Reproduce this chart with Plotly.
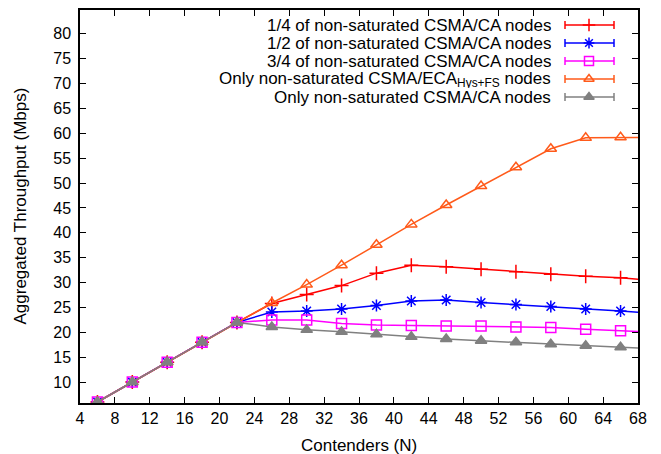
import plotly.graph_objects as go

# ── data ────────────────────────────────────────────────────────────────────
contenders = [6, 10, 14, 18, 22, 26, 30, 34, 38, 42, 46, 50, 54, 58, 62, 66, 70]

quarter_ca = [6, 10, 14, 18, 22, 25.8, 27.6, 29.4, 31.9, 33.5, 33.2, 32.7, 32.2, 31.7, 31.3, 31.0, 30.4]
half_ca = [6, 10, 14, 18, 22, 24.1, 24.3, 24.7, 25.4, 26.3, 26.5, 26.0, 25.6, 25.2, 24.7, 24.3, 23.8]
three_q_ca = [6, 10, 14, 18, 22, 22.5, 22.5, 21.8, 21.5, 21.4, 21.3, 21.3, 21.1, 21.0, 20.6, 20.3, 20.0]
only_eca = [6, 10, 14, 18, 22, 25.9, 29.6, 33.5, 37.6, 41.7, 45.6, 49.4, 53.2, 56.9, 59.1, 59.2, 59.2]
only_ca = [6, 10, 14, 18, 22, 21.1, 20.5, 20.1, 19.6, 19.1, 18.65, 18.3, 18.0, 17.6, 17.3, 17.0, 16.7]

series = [
    ("1/4 of non-saturated CSMA/CA nodes", quarter_ca, "#ff0000", "cross-thin-open"),
    ("1/2 of non-saturated CSMA/CA nodes", half_ca, "#0000ff", "asterisk-open"),
    ("3/4 of non-saturated CSMA/CA nodes", three_q_ca, "#ff00ff", "square-open"),
    ("Only non-saturated CSMA/ECA<sub>Hys+FS</sub> nodes", only_eca, "#ff5a1a", "triangle-up-open"),
    ("Only non-saturated CSMA/CA nodes", only_ca, "#808080", "triangle-up"),
]

x_ticks = list(range(4, 69, 4))
y_ticks = list(range(10, 81, 5))

FONT = "Liberation Sans, Arial, sans-serif"

fig = go.Figure()

for name, vals, color, symbol in series:
    fig.add_trace(go.Scatter(
        x=contenders, y=vals,
        name=name, mode="lines+markers",
        line=dict(color=color, width=1.5),
        marker=dict(symbol=symbol, size=10, color=color,
                    line=dict(color=color, width=1.5)),
        showlegend=False,
    ))

# ── hand-made key: text first, then sample line with caps (gnuplot style) ───
# overlay axis measured in page pixels of the plot area
row_y = [25, 43, 61, 79, 97]
line_x0, line_x1, mark_x, text_x = 565, 614, 589, 553
for (name, vals, color, symbol), ry in zip(series, row_y):
    fig.add_annotation(
        x=text_x, y=ry, xref="x2", yref="y2", text=name, showarrow=False,
        xanchor="right", yanchor="middle", height=17, valign="middle",
        font=dict(family=FONT, size=17, color="black"),
    )
    fig.add_shape(type="line", xref="x2", yref="y2",
                  x0=line_x0, x1=line_x1, y0=ry, y1=ry,
                  line=dict(color=color, width=1.5))
    for cx in (line_x0, line_x1):
        fig.add_shape(type="line", xref="x2", yref="y2",
                      x0=cx, x1=cx, y0=ry - 4, y1=ry + 4,
                      line=dict(color=color, width=1.5))
    fig.add_trace(go.Scatter(
        x=[mark_x], y=[ry], xaxis="x2", yaxis="y2", mode="markers",
        marker=dict(symbol=symbol, size=9, color=color,
                    line=dict(color=color, width=1.5)),
        showlegend=False, hoverinfo="skip",
    ))

# axis titles placed by hand in paper coords
fig.add_annotation(x=0.5, y=-0.107, xref="paper", yref="paper", text="Contenders (N)",
                   showarrow=False, xanchor="center", yanchor="middle",
                   font=dict(family=FONT, size=17, color="black"))
fig.add_annotation(x=-0.1075, y=0.5, xref="paper", yref="paper",
                   text="Aggregated Throughput (Mbps)",
                   showarrow=False, xanchor="center", yanchor="middle", textangle=-90,
                   font=dict(family=FONT, size=17, color="black"))

axis_style = dict(
    showline=True, linecolor="black", linewidth=1.5, mirror="ticks",
    ticks="inside", ticklen=6, tickwidth=1, tickcolor="black",
    showgrid=False, zeroline=False, automargin=False,
    tickfont=dict(family=FONT, size=16, color="black"),
)

# page body has an 8px margin, so shift the plot area back by 8px
fig.update_layout(
    width=661, height=454,
    margin=dict(l=72, r=31, t=2, b=59),
    paper_bgcolor="white", plot_bgcolor="white",
    font=dict(family=FONT, size=14, color="black"),
    xaxis=dict(range=[4, 68], tickvals=x_ticks, ticklabelstandoff=0, **axis_style),
    yaxis=dict(range=[5.8, 84.8], tickvals=y_ticks, ticklabelstandoff=4, **axis_style),
    xaxis2=dict(range=[80, 638], overlaying="x", visible=False, fixedrange=True),
    yaxis2=dict(range=[403, 10], overlaying="y", visible=False, fixedrange=True),
)

fig.write_html("out.html")
